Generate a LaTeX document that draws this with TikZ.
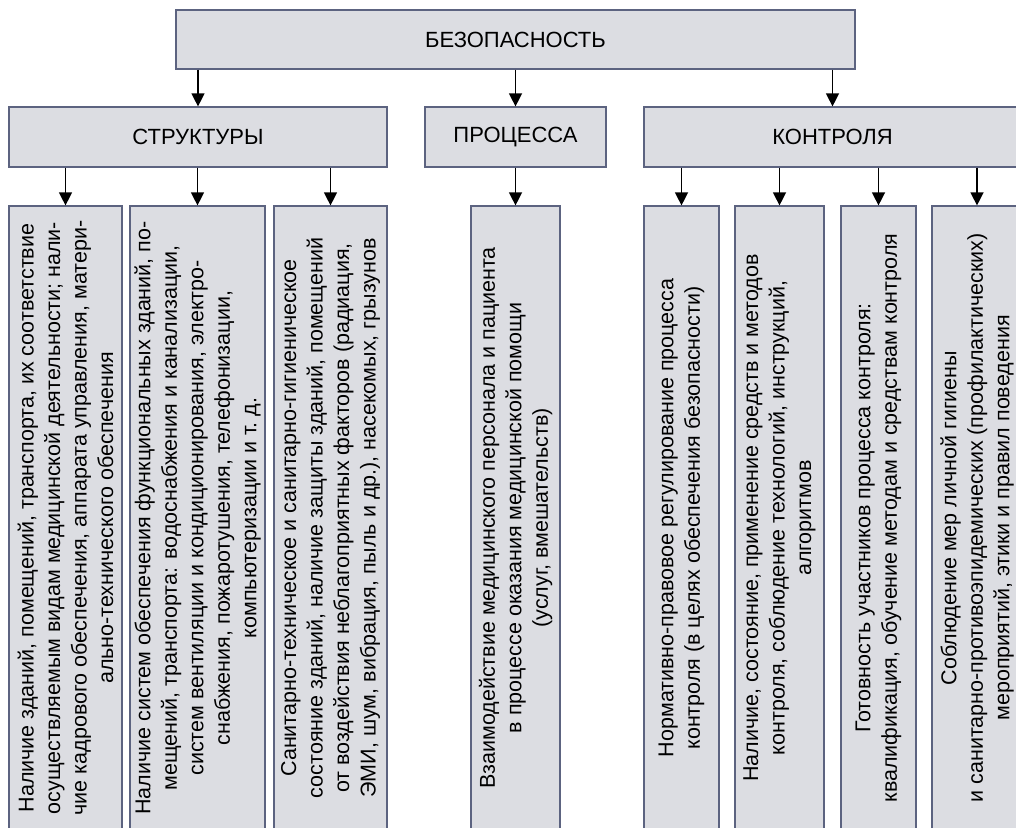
\documentclass[tikz,border=0pt]{standalone}
\usepackage{fontspec}
\setmainfont{Liberation Sans}
\usetikzlibrary{arrows.meta}
\definecolor{boxfill}{HTML}{DCDDE2}
\definecolor{boxline}{HTML}{5C6380}
\begin{document}
\begin{tikzpicture}[x=1pt,y=-1pt,
  box/.style={draw=boxline, fill=boxfill, line width=1.2pt, inner sep=0pt, align=center, font=\fontsize{22}{26.5}\selectfont},
  vbox/.style={box, rotate=90, minimum width=624pt, font=\fontsize{21.5}{26.5}\selectfont},
  arr/.style={line width=1.3pt, -{Triangle[width=13pt,length=13pt]}}]
\useasboundingbox (0,0) rectangle (1016,827);
\clip (0,0) rectangle (1016,827);
% level 1
\node[box, minimum width=679pt, minimum height=59pt] (top) at (515.5,39.5) {БЕЗОПАСНОСТЬ};
% level 2
\node[box, minimum width=378pt, minimum height=60pt] (s) at (198,137) {СТРУКТУРЫ};
\node[box, minimum width=181pt, minimum height=60pt] (p) at (515.5,137) {ПРОЦЕССА};
\node[box, minimum width=377pt, minimum height=60pt] (k) at (832.5,137) {КОНТРОЛЯ};
% level 3
\node[vbox, minimum height=113pt] (b1) at (65.5,518) {Наличие зданий, помещений, транспорта, их соответствие\\осуществляемым видам медицинской деятельности; нали-\\чие кадрового обеспечения, аппарата управления, матери-\\ально-технического обеспечения};
\node[vbox, minimum height=135pt] (b2) at (197.5,518) {Наличие систем обеспечения функциональных зданий, по-\\мещений, транспорта: водоснабжения и канализации,\\систем вентиляции и кондиционирования, электро-\\снабжения, пожаротушения, телефонизации,\\компьютеризации и т.~д.};
\node[vbox, minimum height=113pt] (b3) at (330.5,518) {Санитарно-техническое и санитарно-гигиеническое\\состояние зданий, наличие защиты зданий, помещений\\от воздействия неблагоприятных факторов (радиация,\\ЭМИ, шум, вибрация, пыль и др.), насекомых, грызунов};
\node[vbox, minimum height=89pt] (b4) at (515.5,518) {Взаимодействие медицинского персонала и пациента\\в процессе оказания медицинской помощи\\(услуг, вмешательств)};
\node[vbox, minimum height=75pt] (b5) at (681.5,518) {Нормативно-правовое регулирование процесса\\контроля (в целях обеспечения безопасности)};
\node[vbox, minimum height=89pt] (b6) at (779.5,518) {Наличие, состояние, применение средств и методов\\контроля, соблюдение технологий, инструкций,\\алгоритмов};
\node[vbox, minimum height=75pt] (b7) at (878.5,518) {Готовность участников процесса контроля:\\квалификация, обучение методам и средствам контроля};
\node[vbox, minimum height=90pt] (b8) at (977,518) {Соблюдение мер личной гигиены\\и санитарно-противоэпидемических (профилактических)\\мероприятий, этики и правил поведения};
% arrows
\draw[arr] (top.south -| s.center) -- (s.north);
\draw[arr] (top.south -| p.center) -- (p.north);
\draw[arr] (top.south -| k.center) -- (k.north);
\draw[arr] (s.south -| b1.center) -- (b1.east);
\draw[arr] (s.south -| b2.center) -- (b2.east);
\draw[arr] (s.south -| b3.center) -- (b3.east);
\draw[arr] (p.south -| b4.center) -- (b4.east);
\draw[arr] (k.south -| b5.center) -- (b5.east);
\draw[arr] (k.south -| b6.center) -- (b6.east);
\draw[arr] (k.south -| b7.center) -- (b7.east);
\draw[arr] (k.south -| b8.center) -- (b8.east);
\end{tikzpicture}
\end{document}
